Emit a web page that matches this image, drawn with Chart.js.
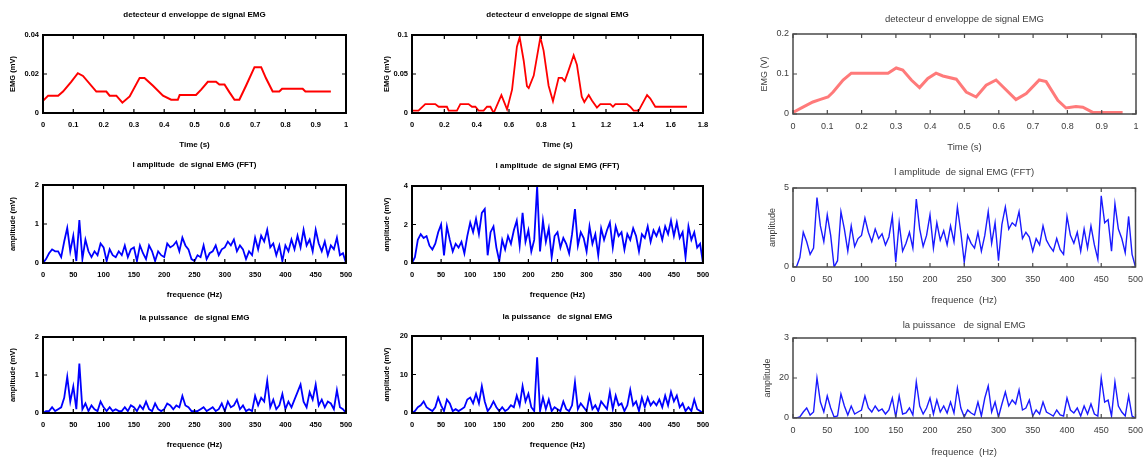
<!DOCTYPE html>
<html>
<head>
<meta charset="utf-8">
<script src="https://cdn.jsdelivr.net/npm/chart.js@4.4.0/dist/chart.umd.min.js"></script>
<style>
  body { margin: 0; background: #fff; }
  #page { position: relative; width: 1146px; height: 460px; overflow: hidden; background: #fff; }
  .cell { position: absolute; }
</style>
</head>
<body>
<div id="page"></div>
<script>
// --- enveloppe (ligne du haut) ---
const env1Time = [0, 0.017, 0.05, 0.066, 0.093, 0.115, 0.132, 0.176, 0.209, 0.22, 0.242, 0.262, 0.286, 0.319, 0.335, 0.363, 0.396, 0.423, 0.445, 0.451, 0.505, 0.522, 0.544, 0.571, 0.582, 0.599, 0.615, 0.632, 0.648, 0.670, 0.698, 0.72, 0.736, 0.758, 0.78, 0.789, 0.857, 0.866, 0.95];
const env1Val = [0.0062, 0.0089, 0.0089, 0.011, 0.016, 0.0204, 0.019, 0.011, 0.011, 0.0089, 0.0089, 0.0053, 0.0085, 0.018, 0.018, 0.014, 0.0089, 0.0068, 0.0068, 0.0092, 0.0092, 0.012, 0.016, 0.016, 0.0146, 0.0146, 0.0107, 0.0068, 0.0068, 0.014, 0.0235, 0.0235, 0.0178, 0.011, 0.011, 0.0124, 0.0124, 0.011, 0.011];

const env2Time = [0, 0.04, 0.082, 0.144, 0.165, 0.216, 0.227, 0.278, 0.299, 0.35, 0.371, 0.392, 0.412, 0.443, 0.464, 0.485, 0.505, 0.553, 0.588, 0.619, 0.649, 0.666, 0.691, 0.711, 0.722, 0.753, 0.794, 0.814, 0.845, 0.872, 0.907, 0.928, 0.945, 0.969, 1.0, 1.02, 1.05, 1.066, 1.093, 1.113, 1.144, 1.165, 1.227, 1.243, 1.258, 1.33, 1.35, 1.371, 1.402, 1.454, 1.474, 1.505, 1.701];
const env2Val = [0.003, 0.003, 0.0115, 0.0115, 0.008, 0.008, 0.003, 0.003, 0.0115, 0.0115, 0.008, 0.008, 0.003, 0.003, 0.008, 0.008, 0, 0.023, 0.0046, 0.03, 0.085, 0.097, 0.067, 0.0346, 0.032, 0.048, 0.097, 0.08, 0.035, 0.015, 0.045, 0.045, 0.041, 0.055, 0.074, 0.062, 0.021, 0.014, 0.023, 0.016, 0.007, 0.0115, 0.0115, 0.008, 0.0115, 0.0115, 0.008, 0.003, 0.003, 0.023, 0.0185, 0.008, 0.008];

const env3Time = [0, 0.029, 0.058, 0.078, 0.102, 0.117, 0.146, 0.17, 0.194, 0.277, 0.301, 0.32, 0.345, 0.369, 0.393, 0.417, 0.437, 0.476, 0.505, 0.534, 0.563, 0.592, 0.612, 0.65, 0.68, 0.718, 0.738, 0.772, 0.796, 0.825, 0.845, 0.874, 0.961];
const env3Val = [0.004, 0.017, 0.03, 0.036, 0.0425, 0.055, 0.085, 0.102, 0.102, 0.102, 0.115, 0.11, 0.085, 0.066, 0.089, 0.102, 0.095, 0.087, 0.055, 0.0425, 0.072, 0.085, 0.068, 0.036, 0.051, 0.085, 0.081, 0.034, 0.015, 0.019, 0.017, 0.004, 0.004];

// --- spectres, un point tous les 5 Hz de 0 a 500 Hz ---
const freqHz = [];
for (let f = 0; f <= 500; f += 5) freqHz.push(f);

const ampLeft = [
  0, 0.1, 0.25, 0.35, 0.3, 0.3, 0.15, 0.55, 0.9, 0.3,
  0.7, 0.05, 1.1, 0.1, 0.6, 0.3, 0.15, 0.3, 0.2, 0.5,
  0.4, 0.05, 0.35, 0.2, 0.15, 0.3, 0.2, 0.45, 0.15, 0.35,
  0.4, 0.05, 0.45, 0.25, 0.1, 0.45, 0.3, 0.05, 0.3, 0.2,
  0.15, 0.5, 0.4, 0.45, 0.55, 0.3, 0.65, 0.45, 0.35, 0.1,
  0.05, 0.2, 0.15, 0.45, 0.1, 0.25, 0.3, 0.45, 0.2, 0.35,
  0.4, 0.55, 0.45, 0.6, 0.3, 0.45, 0.35, 0.1, 0.3, 0.2,
  0.65, 0.35, 0.7, 0.55, 0.85, 0.4, 0.5, 0.2, 0.45, 0.05,
  0.45, 0.3, 0.6, 0.35, 0.7, 0.4, 0.85, 0.45, 0.6, 0.3,
  0.85, 0.5, 0.3, 0.55, 0.2, 0.45, 0.35, 0.65, 0.2, 0.25,
  0
];
const ampMid = [
  0, 0.3, 1.2, 1.5, 1.3, 1.4, 0.9, 0.7, 1.0, 1.6,
  2.0, 0.4, 1.9, 1.2, 0.6, 1.0, 0.8, 1.1, 0.5, 1.4,
  2.1, 1.6, 2.3, 1.5, 2.6, 2.8, 0.4, 1.6, 1.9, 0.8,
  0.1, 1.2, 0.7, 1.4, 1.0, 1.7, 2.2, 0.9, 2.6, 1.1,
  1.7, 0.6, 1.2, 4.0, 0.6, 2.2, 1.1, 1.8, 0.3, 1.4,
  1.6, 0.8, 1.3, 1.0, 0.5, 1.5, 2.8, 0.9, 1.6, 1.3,
  0.6, 1.9, 1.0, 1.5, 0.4, 1.8, 1.2, 1.7, 2.1, 0.8,
  1.9, 1.4, 1.6, 0.7, 1.5, 1.2, 1.8, 1.4, 0.6, 1.5,
  1.3, 1.9, 1.1, 1.7, 1.4, 1.8, 1.2, 1.9, 1.5, 2.2,
  1.4, 2.1, 1.3, 1.6, 0.3, 1.9, 1.2, 1.6, 0.8, 1.0,
  0
];
const ampRight = [
  0, 0, 0.6, 2.2, 1.6, 0.8, 1.2, 4.4, 2.6, 1.6,
  3.3, 2.0, 0, 0.4, 3.5, 2.4, 1.0, 2.6, 1.3, 1.8,
  2.0, 3.1, 2.2, 1.6, 2.4, 1.8, 2.1, 1.4, 1.9, 3.2,
  0.3, 2.8, 1.0, 1.5, 2.2, 1.2, 4.3, 2.4, 1.3, 2.0,
  3.3, 1.2, 2.8, 1.7, 2.3, 1.4, 2.6, 1.6, 3.8, 2.2,
  0.3, 2.0, 1.5, 1.2, 2.2, 1.0, 2.0, 3.5, 1.5, 2.8,
  0.4, 2.7, 3.8, 2.4, 2.8, 2.6, 3.5, 1.8, 2.2, 1.9,
  1.0, 1.8, 1.4, 2.6, 1.7, 1.3, 1.0, 1.8, 1.1, 0.8,
  3.2, 2.0, 1.5, 2.2, 1.0, 2.4, 1.2, 2.6, 1.4, 0.5,
  4.5, 2.8, 3.0, 1.0, 4.0, 2.4, 1.8, 0.9, 3.2, 0.8,
  0
];
const powLeft = [
  0, 0.05, 0.05, 0.15, 0.05, 0.1, 0.15, 0.4, 0.95, 0.3,
  0.7, 0.1, 1.3, 0.1, 0.25, 0.05, 0.2, 0.1, 0.05, 0.3,
  0.15, 0.05, 0.15, 0.05, 0.1, 0.05, 0.05, 0.15, 0.05, 0.2,
  0.15, 0.05, 0.2, 0.1, 0.3, 0.1, 0.05, 0.25, 0.1, 0.05,
  0.1, 0.25, 0.2, 0.1, 0.2, 0.15, 0.45, 0.2, 0.15, 0.05,
  0.05, 0.05, 0.1, 0.15, 0.05, 0.1, 0.15, 0.05, 0.1, 0.25,
  0.05, 0.3, 0.15, 0.2, 0.35, 0.1, 0.2, 0.05, 0.1, 0.05,
  0.45, 0.2, 0.4, 0.3, 0.85, 0.15, 0.35, 0.1, 0.2, 0.5,
  0.1, 0.3, 0.15, 0.35, 0.55, 0.75, 0.3, 0.15, 0.55, 0.35,
  0.75, 0.2, 0.35, 0.15, 0.3, 0.25, 0.1, 0.6, 0.15, 0.1,
  0
];
const powMid = [
  0, 0.5, 1.5, 2, 3, 1.5, 1, 0.5, 1.5, 4,
  2, 0.5, 3.5, 2.5, 0.5, 1, 0.5, 1, 1.5, 3.5,
  4, 2.5, 5, 2.5, 7, 3, 0.5, 1.5, 3, 1.5,
  0.5, 1.5, 0.5, 1, 2, 1.5, 4.5, 2, 7, 3,
  5, 1.5, 0.5, 14.5, 0.5, 4, 1, 3.5, 0.5, 1.5,
  1, 0.5, 3, 1, 0.5, 2, 8, 1, 2.5, 1.5,
  0.5, 4.5, 1, 2, 0.5, 3, 2, 1, 5.5, 1,
  4.5, 2, 2.5, 0.5, 2, 6, 2, 3, 0.5, 4,
  1.5, 4, 2, 3, 2, 3.5, 1.5, 4.5, 2, 5.5,
  3, 4.5, 1.5, 2.5, 0.5, 1.5, 0.5, 3.5, 1, 0.5,
  0
];
const powRight = [
  0, 0, 0.5, 3, 5, 1.5, 3, 20, 8, 3,
  11, 5, 0.5, 1, 12, 6, 1.5, 6, 2, 3,
  4, 11, 5, 3, 6, 3.5, 4.5, 2, 4, 10,
  0.5, 11, 2, 2.5, 5, 1.5, 18, 6, 2, 5,
  10, 2, 9, 3, 6, 2.5, 8, 2.5, 15, 5,
  0.5, 4, 2.5, 1.5, 8, 1, 10, 16, 3, 8,
  0.5, 7, 13, 6, 9, 7, 14, 4, 5, 9,
  1, 4, 2, 8, 3, 2, 1, 4, 1.5, 1,
  10, 4, 2.5, 5, 1, 6, 2, 7, 2, 1,
  20, 8, 9, 1, 18, 6, 3, 1, 11, 1,
  0
];

// --- graduations ---
const timeTicks = [0, 0.1, 0.2, 0.3, 0.4, 0.5, 0.6, 0.7, 0.8, 0.9, 1];
const time2Ticks = [0, 0.2, 0.4, 0.6, 0.8, 1, 1.2, 1.4, 1.6, 1.8];
const freqTicks = [0, 50, 100, 150, 200, 250, 300, 350, 400, 450, 500];
const yTicks1 = [0, 0.02, 0.04];
const yTicks2 = [0, 0.05, 0.1];
const yTicks3 = [0, 0.1, 0.2];
const yTicks4 = [0, 1, 2];
const yTicks5 = [0, 2, 4];
const yTicks6 = [0, 5];
const yTicks7 = [0, 1, 2];
const yTicks8 = [0, 10, 20];
const yTicks9 = [0, 20, 40];
const yTickLabels9 = ['0', '20', '3'];

const styles = {
  left: { family: "'Liberation Sans Narrow', 'Liberation Sans', Arial, sans-serif", weight: 'bold', color: '#000', tick: 7.5, title: 8, frame: '#000', frameW: 2 },
  right: { family: "'Liberation Sans', Arial, sans-serif", weight: 'normal', color: '#3c3c3c', tick: 9, title: 9.5, frame: '#4a4a4a', frameW: 1.5 }
};

// cadre + graduations vers l'interieur, facon matlab
const matlabBox = {
  id: 'matlabBox',
  afterDatasetsDraw(chart, args, opts) {
    const { ctx, chartArea: a, scales: { x, y } } = chart;
    ctx.save();
    ctx.strokeStyle = opts.color;
    ctx.lineWidth = 1.2;
    ctx.beginPath();
    x.ticks.forEach(tk => {
      const px = x.getPixelForValue(tk.value);
      ctx.moveTo(px, a.bottom); ctx.lineTo(px, a.bottom - 4);
      ctx.moveTo(px, a.top); ctx.lineTo(px, a.top + 4);
    });
    y.ticks.forEach(tk => {
      const py = y.getPixelForValue(tk.value);
      ctx.moveTo(a.left, py); ctx.lineTo(a.left + 4, py);
      ctx.moveTo(a.right, py); ctx.lineTo(a.right - 4, py);
    });
    ctx.stroke();
    ctx.lineWidth = opts.width;
    ctx.strokeRect(a.left, a.top, a.right - a.left, a.bottom - a.top);
    ctx.restore();
  }
};

const panels = [
  { box: [43, 35, 346, 113], title: 'detecteur d enveloppe de signal EMG', xLabel: 'Time (s)', yLabel: 'EMG (mV)',
    xs: env1Time, ys: env1Val, xTicks: timeTicks, yTicks: yTicks1, color: '#ff0000', lw: 2, st: 'left', tOff: 20, yOff: 30, xOff: 32 },
  { box: [412, 35, 703, 113], title: 'detecteur d enveloppe de signal EMG', xLabel: 'Time (s)', yLabel: 'EMG (mV)',
    xs: env2Time, ys: env2Val, xTicks: time2Ticks, yTicks: yTicks2, color: '#ff0000', lw: 1.8, st: 'left', tOff: 20, yOff: 25, xOff: 32 },
  { box: [793, 34, 1136, 114], title: 'detecteur d enveloppe de signal EMG', xLabel: 'Time (s)', yLabel: 'EMG (V)',
    xs: env3Time, ys: env3Val, xTicks: timeTicks, yTicks: yTicks3, color: '#ff7a7a', lw: 3, st: 'right', tOff: 15, yOff: 28, xOff: 33 },
  { box: [43, 185, 346, 263], title: 'l amplitude  de signal EMG (FFT)', xLabel: 'frequence (Hz)', yLabel: 'amplitude (mV)',
    xs: freqHz, ys: ampLeft, xTicks: freqTicks, yTicks: yTicks4, color: '#0000ff', lw: 1.8, st: 'left', tOff: 20, yOff: 30, xOff: 32 },
  { box: [412, 186, 703, 263], title: 'l amplitude  de signal EMG (FFT)', xLabel: 'frequence (Hz)', yLabel: 'amplitude (mV)',
    xs: freqHz, ys: ampMid, xTicks: freqTicks, yTicks: yTicks5, color: '#0000ff', lw: 1.8, st: 'left', tOff: 20, yOff: 25, xOff: 32 },
  { box: [793, 188, 1136, 267], title: 'l amplitude  de signal EMG (FFT)', xLabel: 'frequence  (Hz)', yLabel: 'amplitude',
    xs: freqHz, ys: ampRight, xTicks: freqTicks, yTicks: yTicks6, color: '#1a1aff', lw: 1.4, st: 'right', tOff: 16, yOff: 20, xOff: 33 },
  { box: [43, 337, 346, 413], title: 'la puissance   de signal EMG', xLabel: 'frequence (Hz)', yLabel: 'amplitude (mV)',
    xs: freqHz, ys: powLeft, xTicks: freqTicks, yTicks: yTicks7, color: '#0000ff', lw: 1.8, st: 'left', tOff: 19, yOff: 30, xOff: 32 },
  { box: [412, 336, 703, 413], title: 'la puissance   de signal EMG', xLabel: 'frequence (Hz)', yLabel: 'amplitude (mV)',
    xs: freqHz, ys: powMid, xTicks: freqTicks, yTicks: yTicks8, color: '#0000ff', lw: 1.8, st: 'left', tOff: 19, yOff: 25, xOff: 32 },
  { box: [793, 338, 1136, 418], title: 'la puissance   de signal EMG', xLabel: 'frequence  (Hz)', yLabel: 'amplitude',
    xs: freqHz, ys: powRight, xTicks: freqTicks, yTicks: yTicks9, yTickLabels: yTickLabels9, color: '#1a1aff', lw: 1.4, st: 'right', tOff: 13, yOff: 25, xOff: 34 }
];

const padL = 50, padT = 30, padR = 14, padB = 42;

function makePanel(p) {
  const [l, t, r, b] = p.box;
  const s = styles[p.st];
  const holder = document.createElement('div');
  holder.className = 'cell';
  holder.style.left = (l - padL) + 'px';
  holder.style.top = (t - padT) + 'px';
  holder.style.width = (r - l + padL + padR) + 'px';
  holder.style.height = (b - t + padT + padB) + 'px';
  const cv = document.createElement('canvas');
  holder.appendChild(cv);
  document.getElementById('page').appendChild(holder);

  const tickFont = { family: s.family, size: s.tick, weight: s.weight };
  const labFont = { family: s.family, size: s.title, weight: s.weight };
  const lh = s.title * 1.2;

  new Chart(cv, {
    type: 'line',
    data: {
      datasets: [{
        data: p.xs.map((x, i) => ({ x: x, y: p.ys[i] })),
        borderColor: p.color,
        borderWidth: p.lw,
        pointRadius: 0,
        tension: 0,
        fill: false
      }]
    },
    options: {
      responsive: true,
      maintainAspectRatio: false,
      animation: false,
      events: [],
      layout: { padding: { left: 0, top: 0, right: padR, bottom: 0 } },
      plugins: {
        legend: { display: false },
        tooltip: { enabled: false },
        title: {
          display: true, fullSize: false, text: p.title, color: s.color, font: labFont,
          padding: { top: padT - p.tOff - lh / 2, bottom: p.tOff - lh / 2 }
        },
        matlabBox: { color: s.frame, width: s.frameW }
      },
      scales: {
        x: {
          type: 'linear',
          min: p.xTicks[0],
          max: p.xTicks[p.xTicks.length - 1],
          afterBuildTicks: sc => { sc.ticks = p.xTicks.map(v => ({ value: v })); },
          afterFit: sc => { sc.height = padB; },
          grid: { display: false, drawTicks: false },
          border: { display: false },
          ticks: { padding: 7, color: s.color, font: tickFont, maxRotation: 0, autoSkip: false,
                   callback: (v, i) => String(p.xTicks[i]) },
          title: { display: true, text: p.xLabel, color: s.color, font: labFont,
                   padding: { top: 0, bottom: padB - p.xOff - lh / 2 } }
        },
        y: {
          type: 'linear',
          min: p.yTicks[0],
          max: p.yTicks[p.yTicks.length - 1],
          afterBuildTicks: sc => { sc.ticks = p.yTicks.map(v => ({ value: v })); },
          afterFit: sc => { sc.width = padL; },
          grid: { display: false, drawTicks: false },
          border: { display: false },
          ticks: { padding: 4, color: s.color, font: tickFont, autoSkip: false,
                   callback: (v, i) => p.yTickLabels ? p.yTickLabels[i] : String(p.yTicks[i]) },
          title: { display: true, text: p.yLabel, color: s.color, font: { family: s.family, size: s.tick, weight: s.weight },
                   padding: { top: padL - p.yOff - s.tick * 0.6, bottom: 0 } }
        }
      }
    },
    plugins: [matlabBox]
  });
}

panels.forEach(makePanel);
</script>
</body>
</html>
